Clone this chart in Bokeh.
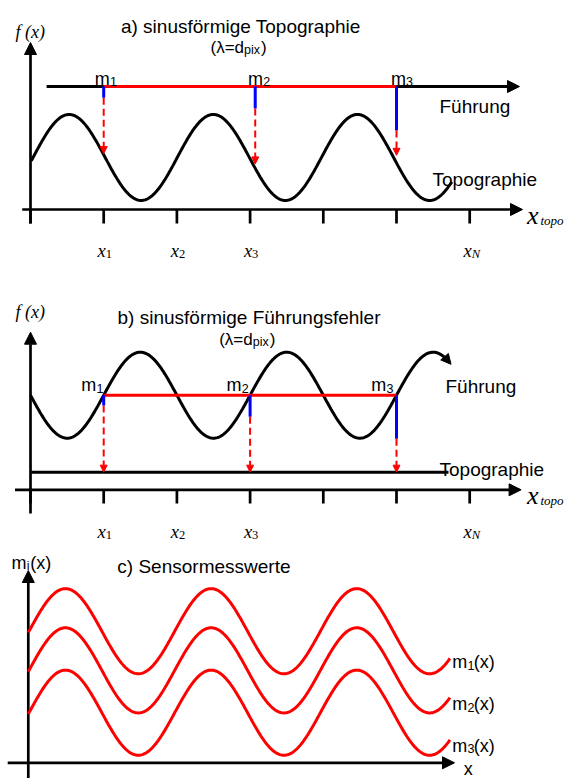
import numpy as np
from bokeh.plotting import figure
from bokeh.layouts import column
from bokeh.models import Range1d, Arrow, NormalHead, ColumnDataSource
from bokeh.core.properties import value
from bokeh.embed import file_html
from bokeh.resources import INLINE

# ---------------- data (x in tick units, y in wave-amplitude units, x-axis at y = 0)
tick_pos = [0, 1, 2, 3, 4, 5, 6]
tick_label_pos = [1, 2, 3, 6]
tick_label_sub = ["1", "2", "3", "N"]
m_names = ["1", "2", "3"]

# a) sinusoidal topography, straight guide
a_topo_mid = 1.21
a_topo_amp = 1.0
a_topo_period = 1.97
a_topo_phase = 0.035
a_topo_range = [0.01, 5.756]
a_guide_y = 2.86
a_guide_range = [0.22, 6.68]
a_m_pos = [1.0, 3.07, 5.0]
a_m_blue_end = [2.60, 2.35, 1.84]
a_m_arrow_tip = [1.30, 1.06, 1.26]

# b) sinusoidal guide error, flat topography
b_guide_mid = 2.2
b_guide_amp = 1.0
b_guide_period = 2.0
b_guide_range = [0.0, 5.745]
b_topo_y = 0.41
b_topo_range = [0.01, 5.71]
b_m_pos = [1.0, 3.0, 5.0]
b_m_blue_end = [1.96, 1.70, 1.19]

# c) sensor readings
c_mid = [3.06, 2.15, 1.165]
c_amp = 0.99
c_period = 1.99
c_phase = -0.02
c_range = [-0.03, 5.73]

# ---------------- layout helpers (reference pixel -> diagram units)
UX, UY, X0 = 73.2, 43.0, 30.0
W = 564
SANS = "Liberation Sans"
SERIF = "Liberation Serif"
BLACK, RED, BLUE = "#000000", "#ff0000", "#0000ff"


def px_x(X):
    return (X - X0) / UX


def make_fig(axisY, top, bottom):
    p = figure(width=W, height=int(bottom - top),
               x_range=Range1d(px_x(0), px_x(W)),
               y_range=Range1d((axisY - bottom) / UY, (axisY - top) / UY),
               x_axis_type=None, y_axis_type=None,
               toolbar_location=None, output_backend="svg",
               min_border=0, outline_line_color=None,
               background_fill_color="white", border_fill_color="white")
    return p


def txt(p, axisY, X, Y, s, size, font=SANS, style="normal", align="left", color=BLACK):
    p.text(x=[px_x(X)], y=[(axisY - Y) / UY], text=[s],
           text_font=value(font), text_font_size=value(size),
           text_font_style=value(style), text_align=value(align),
           text_baseline=value("alphabetic"), text_color=color)


def arrow(p, x0, y0, x1, y1, size=12, lw=2.7, color=BLACK, dash="solid"):
    p.add_layout(Arrow(end=NormalHead(size=size, fill_color=color, line_color=color, line_width=1),
                       x_start=x0, y_start=y0, x_end=x1, y_end=y1,
                       line_width=lw, line_color=color, line_dash=dash, level="underlay"))


def x_ticks(p, axisY, tick_bottom, label_base):
    p.segment(x0=tick_pos, y0=[0] * len(tick_pos), x1=tick_pos, y1=[tick_bottom] * len(tick_pos),
              line_width=2.7, line_color=BLACK)
    for tp, sub in zip(tick_label_pos, tick_label_sub):
        Xt = X0 + tp * UX
        txt(p, axisY, Xt + 2, label_base, "x", "18.5px", SERIF, "italic", "right")
        txt(p, axisY, Xt + 2, label_base + 3.4, sub, "12.5px", SERIF, "italic" if sub == "N" else "normal")


def lambda_label(p, axisY, Xl, base):
    txt(p, axisY, Xl, base, "(λ=d", "17px")
    txt(p, axisY, Xl + 33.5, base + 2.5, "pix", "12.5px")
    txt(p, axisY, Xl + 50.5, base, ")", "17px")


# ================= panel a
AY = 209.0
pa = make_fig(AY, 0, 272)
ua = np.linspace(a_topo_range[0], a_topo_range[1], 400)
pa.line(ua, a_topo_mid + a_topo_amp * np.sin(2 * np.pi * (ua - a_topo_phase) / a_topo_period),
        line_width=3, line_color=BLACK)
# axes
arrow(pa, px_x(21.7), 0, px_x(522), 0)
arrow(pa, 0, -0.326, 0, (AY - 42) / UY)
x_ticks(pa, AY, -0.326, 250.3)
# guide
arrow(pa, a_guide_range[0], a_guide_y, a_guide_range[1], a_guide_y, size=12, lw=3)
pa.segment(x0=[a_m_pos[0]], y0=[a_guide_y], x1=[a_m_pos[-1]], y1=[a_guide_y], line_width=3, line_color=RED)
pa.segment(x0=a_m_pos, y0=[a_guide_y] * 3, x1=a_m_pos, y1=a_m_blue_end, line_width=3, line_color=BLUE)
pa.add_layout(Arrow(end=NormalHead(size=7, fill_color=RED, line_color=RED, line_width=1),
                    source=ColumnDataSource(dict(x0=a_m_pos, y0=a_m_blue_end, x1=a_m_pos, y1=a_m_arrow_tip)),
                    x_start="x0", y_start="y0", x_end="x1", y_end="y1",
                    line_width=2, line_color=RED, line_dash="7 4"))
# texts
txt(pa, AY, 240.3, 25.5, "a) sinusförmige Topographie", "19px", align="center")
lambda_label(pa, AY, 210, 47)
txt(pa, AY, 15, 31.5, "f (x)", "18px", SERIF, "italic")
for Xm, n in zip([94.3, 247.6, 390.4], m_names):
    txt(pa, AY, Xm, 78, "m", "18px")
    txt(pa, AY, Xm + 15.2, 81, n, "12.5px")
txt(pa, AY, 439, 106, "Führung", "19px")
txt(pa, AY, 432, 179, "Topographie", "19px")
txt(pa, AY, 526.5, 215, "x", "26px", SERIF, "italic")
txt(pa, AY, 540, 220, "topo", "13px", SERIF, "italic")

# ================= panel b
BY = 489.3
pb = make_fig(BY, 272, 545)
arrow(pb, px_x(14.5), 0, px_x(520.6), 0)
arrow(pb, 0, (BY - 513) / UY, 0, (BY - 331.7) / UY)
x_ticks(pb, BY, -0.32, 531)
pb.line(b_topo_range, [b_topo_y, b_topo_y], line_width=3, line_color=BLACK)
ub = np.linspace(b_guide_range[0], b_guide_range[1] - 0.02, 400)
pb.line(ub, b_guide_mid - b_guide_amp * np.sin(2 * np.pi * ub / b_guide_period), line_width=3, line_color=BLACK)
ue0, ue1 = b_guide_range[1] - 0.05, b_guide_range[1]
arrow(pb, ue0, b_guide_mid - b_guide_amp * np.sin(2 * np.pi * ue0 / b_guide_period),
      ue1, b_guide_mid - b_guide_amp * np.sin(2 * np.pi * ue1 / b_guide_period), size=10, lw=3)
pb.segment(x0=[b_m_pos[0]], y0=[b_guide_mid], x1=[b_m_pos[-1]], y1=[b_guide_mid], line_width=3, line_color=RED)
pb.segment(x0=b_m_pos, y0=[b_guide_mid] * 3, x1=b_m_pos, y1=b_m_blue_end, line_width=3, line_color=BLUE)
pb.add_layout(Arrow(end=NormalHead(size=7, fill_color=RED, line_color=RED, line_width=1),
                    source=ColumnDataSource(dict(x0=b_m_pos, y0=b_m_blue_end, x1=b_m_pos, y1=[b_topo_y] * 3)),
                    x_start="x0", y_start="y0", x_end="x1", y_end="y1",
                    line_width=2, line_color=RED, line_dash="7 4"))
txt(pb, BY, 248.5, 317, "b) sinusförmige Führungsfehler", "19px", align="center")
lambda_label(pb, BY, 218.7, 339)
txt(pb, BY, 15, 311, "f (x)", "18px", SERIF, "italic")
for Xm, n in zip([80.7, 226.0, 370.7], m_names):
    txt(pb, BY, Xm, 384.5, "m", "18px")
    txt(pb, BY, Xm + 15.2, 387.5, n, "12.5px")
txt(pb, BY, 445, 385.5, "Führung", "19px")
txt(pb, BY, 439, 468.5, "Topographie", "19px")
txt(pb, BY, 526.5, 495.3, "x", "26px", SERIF, "italic")
txt(pb, BY, 540, 500.3, "topo", "13px", SERIF, "italic")

# ================= panel c
CY = 762.3
pc = make_fig(CY, 545, 778)
uc = np.linspace(c_range[0], c_range[1], 400)
for mid in c_mid:
    pc.line(uc, mid + c_amp * np.sin(2 * np.pi * (uc - c_phase) / c_period), line_width=3, line_color=RED)
arrow(pc, px_x(7.2), 0, px_x(454), 0)
arrow(pc, px_x(27.8), -0.5, px_x(27.8), (CY - 570) / UY)
txt(pc, CY, 11, 562, "m", "18px")
txt(pc, CY, 26.2, 565, "i", "12.5px")
txt(pc, CY, 29.8, 562, "(x)", "18px")
txt(pc, CY, 203.4, 565.5, "c) Sensormesswerte", "19px", align="center")
for n, base in zip(m_names, [661.7, 703.3, 745.0]):
    txt(pc, CY, 451.7, base, "m", "18px")
    txt(pc, CY, 466.9, base + 3.3, n, "12.5px")
    txt(pc, CY, 473.3, base, "(x)", "18px")
txt(pc, CY, 463.3, 768.5, "x", "18px")

layout = column(pa, pb, pc, spacing=0)
open("out.html", "w").write(file_html(layout, INLINE))
